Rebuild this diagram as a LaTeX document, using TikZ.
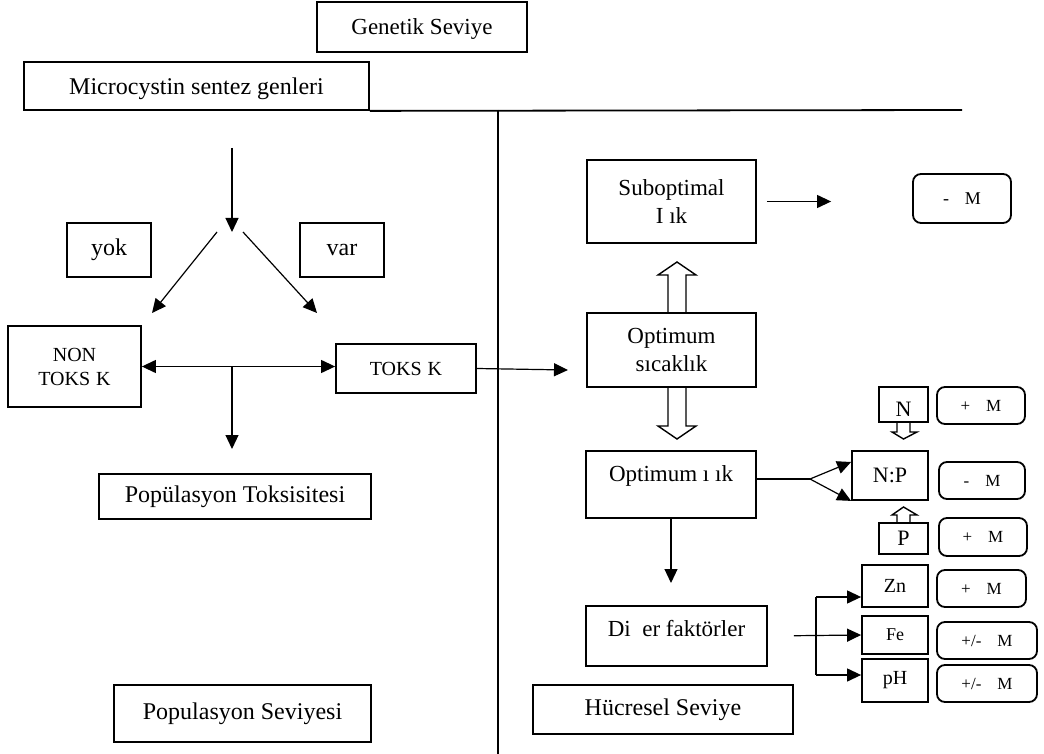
\documentclass[tikz,border=0pt]{standalone}
\usepackage{fontspec}
\setmainfont{Liberation Serif}
\usetikzlibrary{arrows.meta}

\begin{document}
\begin{tikzpicture}[x=0.5pt, y=-0.5pt, inner sep=0pt, >={Triangle[length=7pt,width=6.5pt]},
            every node/.style={draw, line width=0.9pt, font=\fontsize{12}{14}\selectfont},
            sbox/.style={font=\fontsize{11.5}{14}\selectfont, align=center},
            mbox/.style={rounded corners=4pt, font=\fontsize{8.5}{10}\selectfont},
            elem/.style={font=\fontsize{10}{12}\selectfont}]
                \useasboundingbox (0,0) rectangle (1044,754);

                % genetik seviye
                \node[font=\fontsize{11.5}{14}\selectfont, text depth=0pt, minimum width=105pt, minimum height=25pt](gen) at (422, 27) {Genetik Seviye};
                \node[text depth=0pt, minimum width=172.5pt, minimum height=24pt](mcs) at (196.5, 86) {Microcystin sentez genleri};

                % populasyon seviyesi
                \node[minimum width=42pt, minimum height=27pt](yok) at (109, 250) {yok};
                \node[minimum width=42pt, minimum height=27pt](var) at (342, 250) {var};
                \node[elem, align=center, minimum width=66.5pt, minimum height=40.5pt](nontox) at (74.5, 366.5) {NON\\TOKS\hspace{0.3em}K};
                \node[elem, minimum width=70pt, minimum height=24.5pt](tox) at (406, 368.5) {TOKS\hspace{0.3em}K};
                \node[minimum width=136pt, minimum height=22.5pt](poptox) at (235, 496.5) {Popülasyon Toksisitesi};
                \node[minimum width=128.5pt, minimum height=28.5pt](popsev) at (242.5, 713.5) {Populasyon Seviyesi};

                % hucresel seviye
                \node[sbox, minimum width=84.5pt, minimum height=41.5pt](subopt) at (671.5, 201.5) {Suboptimal\\I ık};
                \node[sbox, minimum width=84.5pt, minimum height=37pt](optsic) at (671.5, 350) {Optimum\\sıcaklık};
                \node[sbox, text height=8pt, text depth=11pt, minimum width=85pt, minimum height=33.5pt](optisik) at (671, 484.5) {Optimum ı ık};
                \node[sbox, text height=8pt, text depth=8pt, minimum width=90.5pt, minimum height=30pt](dig) at (676.5, 636) {Di\hspace{0.5em}er faktörler};
                \node[minimum width=130pt, minimum height=24.5pt](hucre) at (663, 709.5) {Hücresel Seviye};

                \node[font=\fontsize{11}{12}\selectfont, text height=12.3pt, text depth=0pt, minimum width=24.5pt, minimum height=17.5pt](nbox) at (903.5, 404.5) {N};
                \node[font=\fontsize{11}{12}\selectfont, minimum width=38pt, minimum height=24.5pt](npbox) at (890, 475.5) {N:P};
                \node[font=\fontsize{11}{12}\selectfont, minimum width=24.5pt, minimum height=15.5pt](pbox) at (903.5, 538.5) {P};
                \node[elem, minimum width=33pt, minimum height=21pt](znbox) at (895, 586) {Zn};
                \node[font=\fontsize{9}{10}\selectfont, minimum width=33pt, minimum height=19pt](febox) at (895, 635) {Fe};
                \node[elem, minimum width=33pt, minimum height=21.5pt](phbox) at (895, 680.5) {pH};

                \node[mbox, font=\fontsize{9}{10}\selectfont, minimum width=49pt, minimum height=24.5pt](mm) at (962, 198.5) {-\hspace{8pt}M};
                \node[mbox, minimum width=44pt, minimum height=18.5pt](mn) at (981, 405.5) {+\hspace{8pt}M};
                \node[mbox, minimum width=43pt, minimum height=18.5pt](mnp) at (982, 480.5) {-\hspace{8pt}M};
                \node[mbox, minimum width=44pt, minimum height=19pt](mp) at (983, 537) {+\hspace{8pt}M};
                \node[mbox, minimum width=44.5pt, minimum height=18.5pt](mzn) at (981.5, 588.5) {+\hspace{8pt}M};
                \node[mbox, minimum width=50pt, minimum height=18.5pt](mfe) at (987, 640.5) {+/-\hspace{8pt}M};
                \node[mbox, minimum width=50pt, minimum height=18.5pt](mph) at (987, 683.5) {+/-\hspace{8pt}M};

                \coordinate(gtop) at (232, 148);
                \coordinate(gmid) at (232, 232);
                \coordinate(gl) at (217, 232);
                \coordinate(gr) at (243, 232);
                \coordinate(yokend) at (152, 313);
                \coordinate(varend) at (317, 313);
                \coordinate(pmid) at (232, 366.5);
                \coordinate(ptin) at (232, 449);
                \coordinate(toxin) at (568, 370);
                \coordinate(digin) at (671, 583);
                \coordinate(fork) at (810, 479);
                \coordinate(brtop) at (816, 597);
                \coordinate(brbot) at (816, 675);

            % ayirici cizgiler
            \draw[line width=0.9pt] (mcs.south east) -- (962, 110);
            \draw[line width=0.9pt] (498, 110) -- (498, 754);

            \begin{scope}[line width=0.6pt]
                \draw[->] (gtop) -- (gmid);
                \draw[->] (gl) -- (yokend);
                \draw[->] (gr) -- (varend);
                \draw[<->] (nontox.east) -- (nontox.east -| tox.west);
                \draw[->] (pmid) -- (ptin);
                \draw[->] (tox.east) -- (toxin);
                \draw[->, shorten <=5pt, shorten >=40.5pt] (subopt.east) -- (subopt.east -| mm.west);
                \draw (fork -| optisik.east) -- (fork);
                \draw[->] (fork) -- ([yshift=6.75pt]npbox.west);
                \draw[->] (fork) -- (npbox.south west);
                \draw[->] (optisik.south) -- (digin);
                \draw[->, shorten <=13pt] (dig.east) -- (febox.west);
                \draw (brtop) -- (brbot);
                \draw[->] (brtop) -- (brtop -| znbox.west);
                \draw[->] (brbot) -- (brbot -| phbox.west);
            \end{scope}

            % bos oklar
            \begin{scope}[line width=0.7pt, fill=white]
                \draw (668, 313) -- (668, 275) -- (658, 275) -- (677, 262) -- (696, 275) -- (686, 275) -- (686, 313);
                \draw (668, 387) -- (668, 426) -- (658, 426) -- (677, 439) -- (696, 426) -- (686, 426) -- (686, 387);
                \draw (897, 422) -- (897, 432) -- (892, 432) -- (903.5, 439) -- (917, 432) -- (910, 432) -- (910, 422);
                \draw (897, 523) -- (897, 515) -- (892, 515) -- (903.5, 507) -- (917, 515) -- (910, 515) -- (910, 523);
            \end{scope}
        \end{tikzpicture}
\end{document}
